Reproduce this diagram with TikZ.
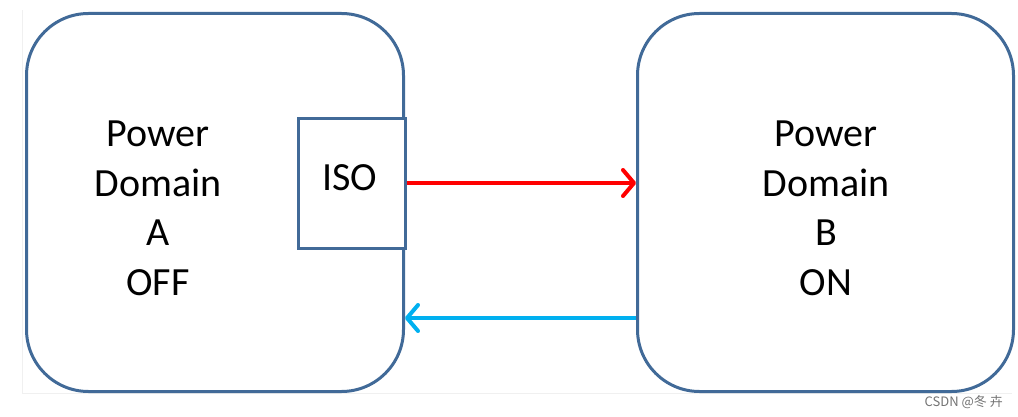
\documentclass[tikz,border=0pt]{standalone}
\usepackage{fontspec}
\setmainfont{Carlito}
\newfontfamily\cjkfont{Noto Sans CJK SC}
\usetikzlibrary{arrows.meta}
\definecolor{boxblue}{RGB}{65,106,152}
\definecolor{arrred}{RGB}{255,0,0}
\definecolor{arrblue}{RGB}{0,176,240}
\tikzset{
  pdbox/.style={draw=boxblue, line width=3pt, rounded corners=62pt, fill=white},
  isobox/.style={draw=boxblue, line width=3pt, fill=white},
  lbl/.style={font=\fontsize{40}{49.5}\selectfont, align=center, text=black, inner sep=0pt},
  conn/.style={line width=4pt, -{Straight Barb[length=11pt,width=26pt,line cap=round,line join=round]}},
}
\begin{document}
\begin{tikzpicture}[x=1pt,y=-1pt]
\useasboundingbox (0,0) rectangle (1018,417);
\draw[black!6, line width=1pt] (22,10) -- (22,393) -- (1012,393);
\node[pdbox, minimum width=377pt, minimum height=378pt, anchor=north west] (A) at (25,12) {};
\node[pdbox, minimum width=376pt, minimum height=378pt, anchor=north west] (B) at (636,12) {};
\node[isobox, minimum width=107pt, minimum height=130pt, anchor=north west] (iso) at (297,117) {};
\node[lbl, anchor=base] (isot) at (350,191) {ISO};
\node[lbl, anchor=north] (At) at (158,121) {Power\\Domain\\A\\OFF};
\node[lbl, anchor=north] (Bt) at (826,121) {Power\\Domain\\B\\ON};
\coordinate (r1) at (iso.east |- 0,183);
\coordinate (r2) at (B.west |- 0,183);
\coordinate (b1) at (B.west |- 0,318);
\coordinate (b2) at (A.east |- 0,318);
\draw[conn, arrred] (r1) -- (r2);
\draw[conn, arrblue] (b1) -- (b2);
\node[font=\cjkfont\fontsize{13}{15}\selectfont, text=black!55, anchor=base east, inner sep=0pt] (wm) at (1003,406) {CSDN @冬 卉};
\end{tikzpicture}
\end{document}
